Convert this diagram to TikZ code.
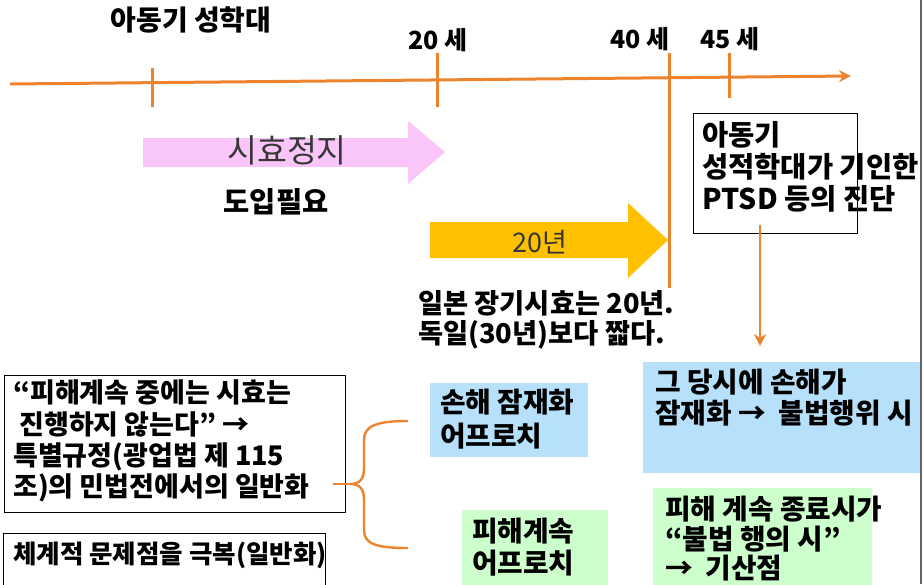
\documentclass[tikz,border=0pt]{standalone}
\usepackage{fontspec}
\setmainfont{Noto Sans CJK KR}
\usetikzlibrary{arrows.meta}
\definecolor{tlc}{RGB}{237,132,45}
\definecolor{pinkA}{RGB}{250,198,250}
\definecolor{goldA}{RGB}{255,192,0}
\definecolor{blueB}{RGB}{183,224,250}
\definecolor{greenB}{RGB}{204,255,204}
\definecolor{grayT}{RGB}{55,55,55}
\begin{document}
\begin{tikzpicture}[x=1pt,y=-1pt,
  ln/.style={inner sep=0,anchor=base west,font=\fontsize{27.8}{32}\selectfont\bfseries},
  hd/.style={inner sep=0,font=\fontsize{25}{28}\selectfont\bfseries},
  tline/.style={tlc,line width=3pt},
  boxb/.style={draw=black,line width=1pt},
  arr/.style={tlc,line width=3pt,-{Stealth[length=12pt,width=12pt]}}]
\useasboundingbox (0,0) rectangle (924,584);
\fill[white] (0,0) rectangle (924,584);
% right border
\draw[gray!80!black,line width=1.8pt] (921,0) -- (921,584);

% timeline
\coordinate (t0) at (10,84);
\coordinate (t1) at (851,76);
\draw[arr] (t0) -- (t1);
\coordinate (k1a) at (152,68); \coordinate (k1b) at (152,107);
\coordinate (k2a) at (437,53); \coordinate (k2b) at (437,107);
\coordinate (k3a) at (669,53); \coordinate (k3b) at (669,288);
\coordinate (k4a) at (729,53); \coordinate (k4b) at (729,98);
\draw[tline] (k1a) -- (k1b);
\draw[tline] (k2a) -- (k2b);
\draw[tline] (k3a) -- (k3b);
\draw[tline] (k4a) -- (k4b);

% top labels
\node[hd,font=\fontsize{28}{30}\selectfont\bfseries] (abuse) at (191,20) {아동기 성학대};
\node[hd] (a20) at (438,40) {20 세};
\node[hd] (a40) at (640,39) {40 세};
\node[hd] (a45) at (730,39) {45 세};

% pink arrow
\fill[pinkA] (143,138) -- (408,138) -- (408,121) -- (445,152) -- (408,184) -- (408,167) -- (143,167) -- cycle;
\node[inner sep=0,text=grayT,font=\fontsize{32.5}{34}\selectfont] (stop) at (287,150) {시효정지};
\node[inner sep=0,font=\fontsize{28.5}{30}\selectfont\bfseries] (need) at (276,202) {도입필요};

% gold arrow
\fill[goldA] (430,222) -- (628,222) -- (628,203) -- (668,240) -- (628,278) -- (628,258) -- (430,258) -- cycle;
\node[inner sep=0,text=grayT,font=\fontsize{27}{30}\selectfont] (y20) at (540,242) {20년};
\node[ln,font=\fontsize{27.3}{30}\selectfont\bfseries] (jp1) at (418,313.5) {일본 장기시효는 20년.};
\node[ln,font=\fontsize{27.3}{30}\selectfont\bfseries] (jp2) at (418,343.5) {독일(30년)보다 짧다.};

% PTSD box
\node[boxb,anchor=north west,minimum width=164pt,minimum height=120pt,inner sep=0] (ptsd) at (693,113) {};
\node[ln,font=\fontsize{28.5}{30}\selectfont\bfseries] (p1) at (702,145.5) {아동기};
\node[ln,font=\fontsize{28.5}{30}\selectfont\bfseries] (p2) at (702,177.5) {성적학대가 기인한};
\node[ln,font=\fontsize{28.5}{30}\selectfont\bfseries] (p3) at (702,209.5) {PTSD 등의 진단};
\coordinate (dA) at (760,225);
\coordinate (dB) at (760,346);
\draw[arr,line width=2.4pt] (dA) -- (dB);

% blue big box
\node[fill=blueB,anchor=north west,minimum width=277pt,minimum height=111pt,inner sep=0] (bb) at (643,362) {};
\node[ln] (bb1) at (655,392.5) {그 당시에 손해가};
\node[ln] (bb2) at (655,423.5) {잠재화 → \ 불법행위 시};

% green big box
\node[fill=greenB,anchor=north west,minimum width=219pt,minimum height=100pt,inner sep=0] (gb) at (653,488) {};
\node[ln] (gb1) at (665,519.5) {피해 계속 종료시가};
\node[ln] (gb2) at (665,549.5) {“불법 행의 시”};
\node[ln] (gb3) at (665,578.5) {→ \ 기산점};

% blue small box
\node[fill=blueB,anchor=north west,minimum width=158pt,minimum height=74pt,inner sep=0] (bs) at (430,383) {};
\node[ln] (bs1) at (440,412.5) {손해 잠재화};
\node[ln] (bs2) at (440,446.5) {어프로치};

% green small box
\node[fill=greenB,anchor=north west,minimum width=146pt,minimum height=80pt,inner sep=0] (gs) at (462,510) {};
\node[ln] (gs1) at (472,541.5) {피해계속};
\node[ln] (gs2) at (472,573.5) {어프로치};

% left box
\node[boxb,anchor=north west,minimum width=341pt,minimum height=137pt,inner sep=0] (lb) at (4,375) {};
\node[ln,font=\fontsize{27}{30}\selectfont\bfseries] (l1) at (13,402.5) {“피해계속 중에는 시효는};
\node[ln,font=\fontsize{27}{30}\selectfont\bfseries] (l2) at (13,434.5) {\ 진행하지 않는다” →};
\node[ln,font=\fontsize{27}{30}\selectfont\bfseries] (l3) at (13,465.5) {특별규정(광업법 제 115};
\node[ln,font=\fontsize{27}{30}\selectfont\bfseries] (l4) at (13,496.5) {조)의 민법전에서의 일반화};

% lower left box
\node[boxb,anchor=north west,minimum width=322pt,minimum height=70pt,inner sep=0] (lb2) at (3,533) {};
\node[ln,font=\fontsize{25.5}{30}\selectfont\bfseries] (m1) at (13,563) {체계적 문제점을 극복(일반화)};

% brace
\coordinate (brT) at (408,421);
\coordinate (brB) at (408,548);
\coordinate (brM) at (350,484);
\coordinate (brS) at (333,484);
\draw[tlc,line width=2.4pt] (brT) .. controls (376,421) and (364,426) .. (364,440)
  -- (364,468) .. controls (364,479) and (360,484) .. (brM)
  .. controls (360,484) and (364,489) .. (364,500)
  -- (364,530) .. controls (364,544) and (376,548) .. (brB);
\draw[tlc,line width=2.4pt] (brS) -- (brM);
\end{tikzpicture}
\end{document}
